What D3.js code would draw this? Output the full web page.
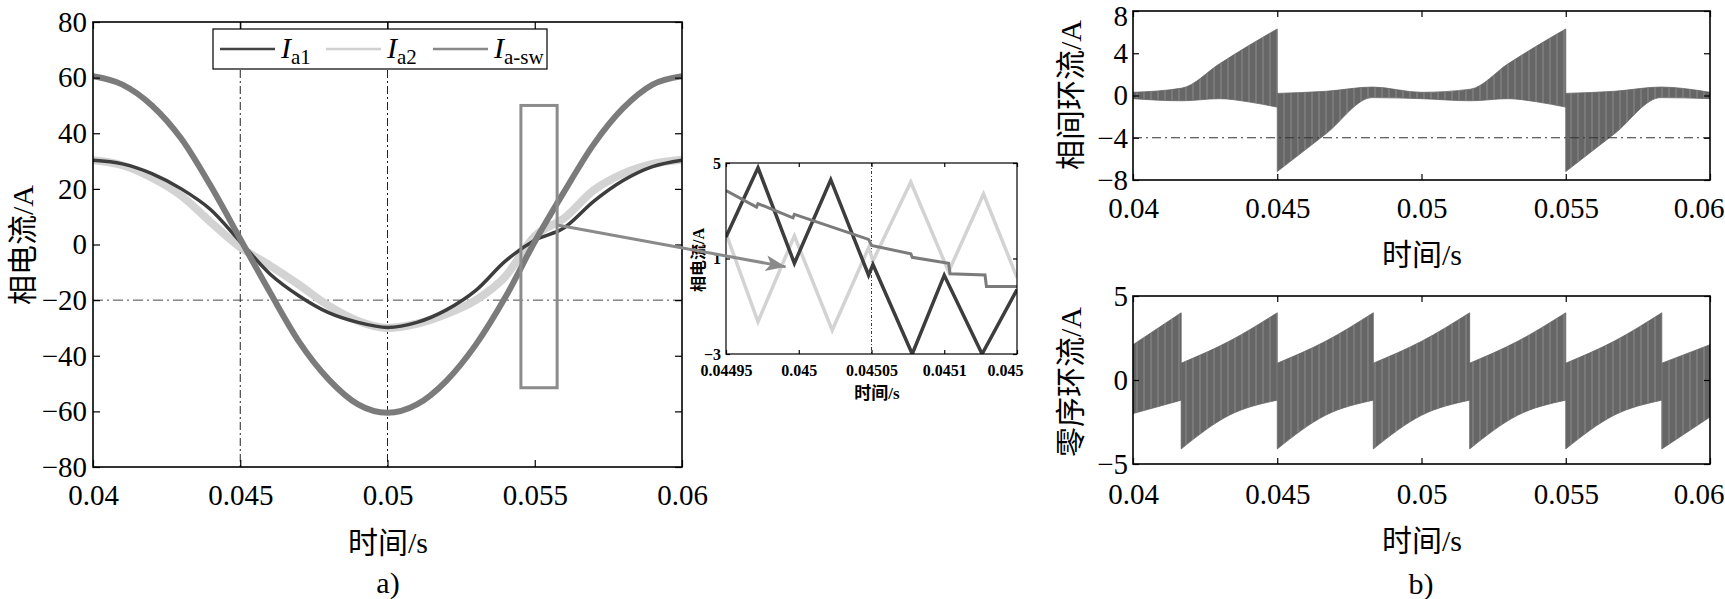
<!DOCTYPE html>
<html>
<head>
<meta charset="utf-8">
<script src="https://cdn.jsdelivr.net/npm/d3@7"></script>
<style>
body{margin:0;background:#fff;}
</style>
</head>
<body>
<div class="container"></div>
<script>
var W = 1725, H = 599;
var FONT = '"Liberation Serif", "Noto Sans CJK SC", serif';

// a) phase currents, every 1 ms
var timeA = [0.040,0.041,0.042,0.043,0.044,0.045,0.046,0.047,0.048,0.049,0.050,
             0.051,0.052,0.053,0.054,0.055,0.056,0.057,0.058,0.059,0.060];
var ia1  = [30.3,29,25.5,20,12.5,1,-10.5,-18.5,-24.5,-28,-29.8,-28,-23.5,-16.5,-6,1.5,6,15.5,23,28,30.3];
var ia2  = [30.3,28.5,24,17.5,8,-1,-7.5,-14.5,-22,-27.5,-30,-28.5,-25,-20,-11.5,3,9.5,19.5,25.5,29,30.5];
var iasw = [60.5,57.5,50,38,21,2,-17,-35,-48.5,-57.5,-60.5,-57.5,-49,-36,-19,1,19,36,49,57.5,60.5];
var seriesNames = ["a1", "a2", "a-sw"];

// zoomed window (box in a)
var boxTime = [0.05453, 0.05576];
var boxCurrent = [-51.5, 50];
var zoomT1 = [0.04495,0.044972,0.044997,0.045022,0.045048,0.045051,0.045078,0.0451,0.045126,0.04515];
var zoomA1 = [1.9,4.8,0.8,4.3,0.3,0.75,-3,0.3,-3,-0.3];
var zoomT2 = [0.04495,0.044972,0.044997,0.045023,0.045048,0.045051,0.045077,0.045103,0.045127,0.04515];
var zoomA2 = [2.05,-1.65,1.95,-2,1.45,0.9,4.2,0.45,3.7,0.2];
var zoomTsw = [0.04495,0.044971,0.044972,0.044996,0.044997,0.045048,0.04505,0.045077,0.045078,0.045103,0.045104,0.045128,0.045129,0.04515];
var zoomAsw = [3.85,3.15,3.3,2.7,2.85,1.8,1.55,1.2,1.05,0.8,0.36,0.31,-0.17,-0.17];

// b) circulating currents: envelopes of the switching ripple (repeated time = jump)
var ccTime  = [0.04,0.0417,0.043,0.044,0.045,0.045,0.0467,0.0483,0.05,0.0517,0.053,0.054,0.055,0.055,0.0567,0.0583,0.06];
var ccUpper = [0.3,0.7,3.0,4.7,6.3,0.2,0.4,0.8,0.3,0.6,3.0,4.7,6.3,0.2,0.4,0.8,0.3];
var ccLower = [-0.3,-0.5,-0.3,-0.6,-1.1,-7.2,-3.6,-0.2,-0.3,-0.5,-0.3,-0.6,-1.1,-7.2,-3.6,-0.2,-0.3];
var zsTime  = [0.04,0.04167,0.04167,0.04333,0.045,0.045,0.04667,0.04833,0.04833,0.05,0.05167,0.05167,
               0.05333,0.055,0.055,0.05667,0.05833,0.05833,0.06];
var zsUpper = [2.1,4,1,2.3,4,1,2.3,4,1,2.3,4,1,2.3,4,1,2.3,4,1,2.1];
var zsLower = [-2,-1.2,-4.1,-2.1,-1.2,-4.1,-2.1,-1.2,-4.1,-2.1,-1.2,-4.1,-2.1,-1.2,-4.1,-2.1,-1.2,-4.1,-2.2];

// ticks
var xTicks = [0.04,0.045,0.05,0.055,0.06];
var xTickLabels = ["0.04","0.045","0.05","0.055","0.06"];
var yTicksA = [-80,-60,-40,-20,0,20,40,60,80];
var yTickLabelsA = ["\u221280","\u221260","\u221240","\u221220","0","20","40","60","80"];
var zoomXTicks = [0.04495,0.045,0.04505,0.0451,0.04515];
var zoomXTickLabels = ["0.04495","0.045","0.04505","0.0451","0.045"];
var zoomYTicks = [-3,1,5];
var zoomYTickLabels = ["\u22123","1","5"];
var yTicksCC = [-8,-4,0,4,8];
var yTickLabelsCC = ["\u22128","\u22124","0","4","8"];
var yTicksZS = [-5,0,5];
var yTickLabelsZS = ["\u22125","0","5"];

var svg = d3.select(".container").append("svg").attr("width", W).attr("height", H);
var defs = svg.append("defs");

// faint switching streaks inside the ripple bands
var pat = defs.append("pattern").attr("id", "ripple").attr("patternUnits", "userSpaceOnUse")
	.attr("width", 7).attr("height", 40);
pat.append("rect").attr("width", 7).attr("height", 40).attr("fill", "#666");
pat.append("line").attr("x1", 3).attr("x2", 3).attr("y1", 0).attr("y2", 40)
	.attr("stroke", "#fff").attr("stroke-width", 0.7).attr("stroke-opacity", 0.35);

var clip = function(id, x, y){
	defs.append("clipPath").attr("id", id).append("rect")
		.attr("x", x.range()[0]).attr("y", y.range()[1])
		.attr("width", x.range()[1] - x.range()[0])
		.attr("height", y.range()[0] - y.range()[1]);
}

var axes = function(x, y, o){
	var g = svg.append("g");
	var x0 = x.range()[0], x1 = x.range()[1], y0 = y.range()[0], y1 = y.range()[1];
	var inner = function(sel){
		sel.select(".domain").remove();
		sel.selectAll(".tick line").attr("stroke", "#000").attr("stroke-width", 1.2);
		sel.attr("font-family", null).attr("font-size", null);
		sel.selectAll("text").style("font-size", o.font + "px")
			.style("font-weight", o.bold ? "bold" : "normal");
	};
	g.append("g").attr("class", "xb").attr("transform", "translate(0," + y0 + ")")
		.call(d3.axisBottom(x).tickValues(o.xt).tickSize(-o.tick).tickPadding(o.xpad)
			.tickFormat(function(d, i){ return o.xl[i]; }))
		.call(inner);
	g.append("g").attr("transform", "translate(0," + y1 + ")")
		.call(d3.axisTop(x).tickValues(o.xt).tickSize(-o.tick).tickFormat(""))
		.call(inner);
	g.append("g").attr("class", "yl").attr("transform", "translate(" + x0 + ",0)")
		.call(d3.axisLeft(y).tickValues(o.yt).tickSize(-o.tick).tickPadding(o.ypad)
			.tickFormat(function(d, i){ return o.yl[i]; }))
		.call(inner);
	g.append("g").attr("transform", "translate(" + x1 + ",0)")
		.call(d3.axisRight(y).tickValues(o.yt).tickSize(-o.tick).tickFormat(""))
		.call(inner);
	g.append("rect").attr("x", x0).attr("y", y1).attr("width", x1 - x0).attr("height", y0 - y1)
		.attr("fill", "none").attr("stroke", "#000").attr("stroke-width", o.frame);
	return g;
}

var label = function(txt, x, y, size, rotate, bold){
	svg.append("text").text(txt)
		.attr("transform", "translate(" + x + "," + y + ")" + (rotate ? " rotate(-90)" : ""))
		.attr("text-anchor", "middle").attr("dominant-baseline", "central")
		.style("font-size", size + "px").style("font-weight", bold ? "bold" : "normal");
}

var segments = function(ts){
	var segs = [], cur = [];
	ts.forEach(function(t, i){
		if (i > 0 && t === ts[i - 1]) { segs.push(cur); cur = []; }
		cur.push(i);
	});
	segs.push(cur);
	return segs;
}

var band = function(x, y, ts, up, lo, clipId){
	var area = d3.area().curve(d3.curveMonotoneX)
		.x(function(i){ return x(ts[i]); })
		.y0(function(i){ return y(lo[i]); })
		.y1(function(i){ return y(up[i]); });
	var g = svg.append("g").attr("clip-path", "url(#" + clipId + ")");
	segments(ts).forEach(function(seg){
		g.append("path").attr("d", area(seg)).attr("fill", "url(#ripple)")
			.attr("stroke", "#666").attr("stroke-width", 0.8);
	});
}

// ---------- a) ----------
var xA = d3.scaleLinear().domain([0.04, 0.06]).range([93, 682]);
var yA = d3.scaleLinear().domain([-80, 80]).range([467, 22]);
clip("clipA", xA, yA);

var gA = svg.append("g").attr("clip-path", "url(#clipA)");
[0.045, 0.05].forEach(function(t){
	gA.append("line").attr("x1", xA(t)).attr("x2", xA(t)).attr("y1", yA(80)).attr("y2", yA(-80))
		.attr("stroke", "#222").attr("stroke-width", 1).attr("stroke-dasharray", "8,3,2,3");
});
gA.append("line").attr("x1", xA(0.04)).attr("x2", xA(0.06)).attr("y1", yA(-20)).attr("y2", yA(-20))
	.attr("stroke", "#333").attr("stroke-width", 0.9).attr("stroke-dasharray", "10,4,2,4");

var lineA = function(vals){
	return d3.line().curve(d3.curveMonotoneX)
		.x(function(d, i){ return xA(timeA[i]); })
		.y(function(d){ return yA(d); })(vals);
}
gA.append("path").attr("d", lineA(ia2)).attr("fill", "none").attr("stroke", "#d3d3d3").attr("stroke-width", 8);
gA.append("path").attr("d", lineA(ia1)).attr("fill", "none").attr("stroke", "#3d3d3d").attr("stroke-width", 3.5);
gA.append("path").attr("d", lineA(iasw)).attr("fill", "none").attr("stroke", "#7b7b7b").attr("stroke-width", 6);

gA.append("rect").attr("x", xA(boxTime[0])).attr("y", yA(boxCurrent[1]))
	.attr("width", xA(boxTime[1]) - xA(boxTime[0])).attr("height", yA(boxCurrent[0]) - yA(boxCurrent[1]))
	.attr("fill", "none").attr("stroke", "#8c8c8c").attr("stroke-width", 3);

// legend
var lg = svg.append("g");
lg.append("rect").attr("x", 213).attr("y", 29).attr("width", 334).attr("height", 40)
	.attr("fill", "#fff").attr("stroke", "#000").attr("stroke-width", 1.2);
var legendColors = ["#444", "#d0d0d0", "#888"];
var legendX = [220, 326, 433];
seriesNames.forEach(function(n, i){
	lg.append("line").attr("x1", legendX[i]).attr("x2", legendX[i] + 55).attr("y1", 49).attr("y2", 49)
		.attr("stroke", legendColors[i]).attr("stroke-width", 2.5);
	var t = lg.append("text").attr("x", legendX[i] + 61).attr("y", 58).style("font-size", "30px");
	t.append("tspan").style("font-style", "italic").text("I");
	t.append("tspan").attr("dy", 6).style("font-size", "21px").text(n);
});

axes(xA, yA, {xt: xTicks, xl: xTickLabels, yt: yTicksA, yl: yTickLabelsA,
	tick: 7, xpad: 17, ypad: 6, font: 29, frame: 1.6});
label("\u76f8\u7535\u6d41/A", 22, 245, 30, true);
label("\u65f6\u95f4/s", 388, 542, 30);
label("a)", 388, 582, 30);

// ---------- zoom inset ----------
var xZ = d3.scaleLinear().domain([0.04495, 0.04515]).range([726, 1017]);
var yZ = d3.scaleLinear().domain([-3, 5]).range([354, 163]);
clip("clipZ", xZ, yZ);
svg.append("rect").attr("x", 726).attr("y", 163).attr("width", 291).attr("height", 191).attr("fill", "#fff");
var gZ = svg.append("g").attr("clip-path", "url(#clipZ)");
gZ.append("line").attr("x1", xZ(0.04505)).attr("x2", xZ(0.04505)).attr("y1", yZ(5)).attr("y2", yZ(-3))
	.attr("stroke", "#222").attr("stroke-width", 0.9).attr("stroke-dasharray", "3,2,1,2");
var lineZ = function(ts, vals){
	return d3.line().x(function(d, i){ return xZ(ts[i]); }).y(function(d){ return yZ(d); })(vals);
}
gZ.append("path").attr("d", lineZ(zoomT2, zoomA2)).attr("fill", "none").attr("stroke", "#d3d3d3").attr("stroke-width", 3.5);
gZ.append("path").attr("d", lineZ(zoomT1, zoomA1)).attr("fill", "none").attr("stroke", "#3d3d3d").attr("stroke-width", 3.5);
gZ.append("path").attr("d", lineZ(zoomTsw, zoomAsw)).attr("fill", "none").attr("stroke", "#7b7b7b").attr("stroke-width", 3);

var az = axes(xZ, yZ, {xt: zoomXTicks, xl: zoomXTickLabels, yt: zoomYTicks, yl: zoomYTickLabels,
	tick: 4, xpad: 11, ypad: 5, font: 16, bold: true, frame: 1.2});
az.select(".xb").selectAll("text").filter(function(d){ return d === 0.04515; })
	.attr("text-anchor", "end").attr("x", 6);
label("\u76f8\u7535\u6d41/A", 698, 260, 16, true, true);
label("\u65f6\u95f4/s", 877, 393, 17, false, true);

// arrow from box to inset
defs.append("marker").attr("id", "head").attr("markerUnits", "userSpaceOnUse")
	.attr("markerWidth", 22).attr("markerHeight", 20).attr("refX", 20).attr("refY", 10)
	.attr("orient", "auto")
	.append("path").attr("d", "M0,2 L20,10 L0,18 L5,10 Z").attr("fill", "#8a8a8a");
svg.append("line")
	.attr("x1", xA(boxTime[1])).attr("y1", yA(7))
	.attr("x2", xZ(0.044991)).attr("y2", yZ(0.65))
	.attr("stroke", "#8a8a8a").attr("stroke-width", 3).attr("marker-end", "url(#head)");

// ---------- b) top ----------
var xB = d3.scaleLinear().domain([0.04, 0.06]).range([1133, 1710]);
var yCC = d3.scaleLinear().domain([-8, 8]).range([180, 11]);
clip("clipCC", xB, yCC);
band(xB, yCC, ccTime, ccUpper, ccLower, "clipCC");
svg.append("line").attr("x1", xB(0.04)).attr("x2", xB(0.06)).attr("y1", yCC(-4)).attr("y2", yCC(-4))
	.attr("stroke", "#333").attr("stroke-width", 1.1).attr("stroke-dasharray", "9,4,2,4");
var acc = axes(xB, yCC, {xt: xTicks, xl: xTickLabels, yt: yTicksCC, yl: yTickLabelsCC,
	tick: 6, xpad: 17, ypad: 5, font: 29, frame: 1.6});
acc.select(".yl").selectAll("text").filter(function(d){ return d === 8; }).attr("y", 5);
label("\u76f8\u95f4\u73af\u6d41/A", 1070, 95, 30, true);
label("\u65f6\u95f4/s", 1422, 254, 30);

// ---------- b) bottom ----------
var yZS = d3.scaleLinear().domain([-5, 5]).range([464, 296]);
clip("clipZS", xB, yZS);
band(xB, yZS, zsTime, zsUpper, zsLower, "clipZS");
var azs = axes(xB, yZS, {xt: xTicks, xl: xTickLabels, yt: yTicksZS, yl: yTickLabelsZS,
	tick: 6, xpad: 19, ypad: 5, font: 29, frame: 1.6});
label("\u96f6\u5e8f\u73af\u6d41/A", 1070, 382, 30, true);
label("\u65f6\u95f4/s", 1422, 540, 30);
label("b)", 1421, 583, 30);

// last tick label of b) pulled in so it stays inside the page
[acc, azs].forEach(function(a){
	a.select(".xb").selectAll("text").filter(function(d){ return d === 0.06; })
		.attr("text-anchor", "end").attr("x", 14);
});

svg.selectAll("text").style("font-family", FONT).style("fill", "#000");
</script>
</body>
</html>
